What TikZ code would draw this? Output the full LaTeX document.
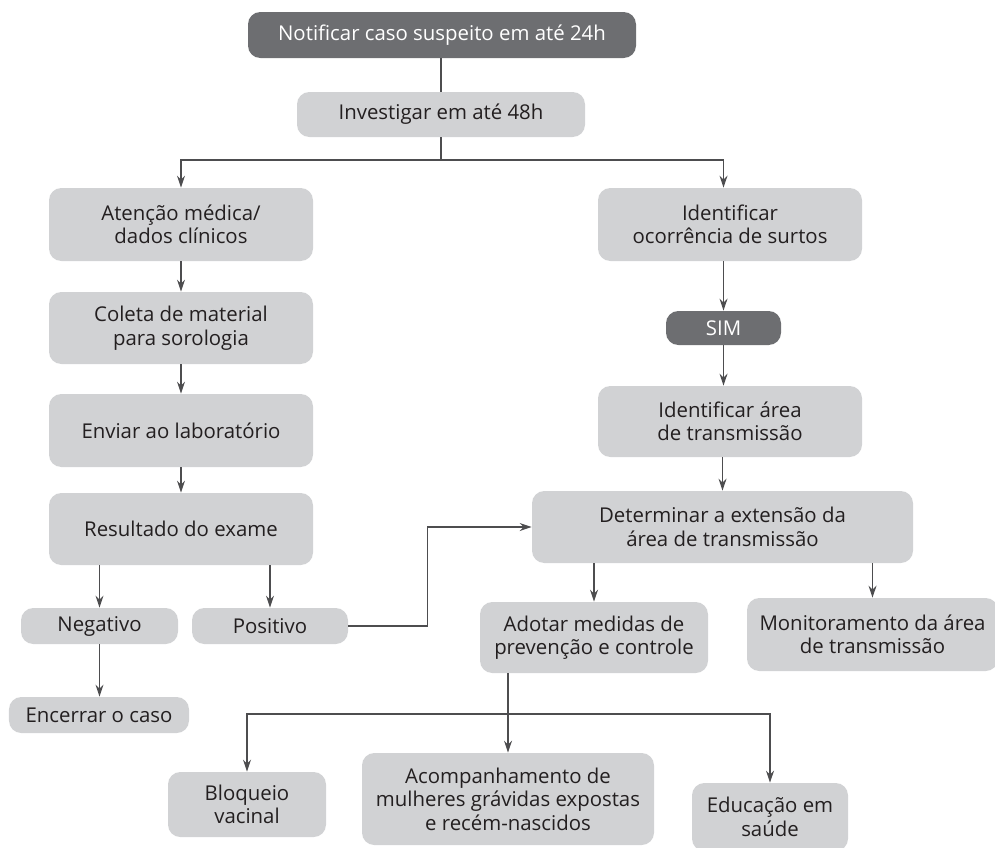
\documentclass[tikz,border=0pt]{standalone}
\usepackage{fontspec}
\setmainfont{Open Sans}
\usepackage{xcolor}
\usetikzlibrary{arrows.meta, calc}
\definecolor{caixa}{HTML}{D1D2D4}
\definecolor{escura}{HTML}{6D6E71}
\definecolor{texto}{HTML}{231F20}
\definecolor{linha}{HTML}{4D4D4F}

\begin{document}
\begin{tikzpicture}[
    font=\fontsize{11.6}{13.4}\selectfont,
    etapa/.style={fill=caixa, rounded corners=7pt, align=center,
                  text=texto, inner sep=2pt},
    destaque/.style={fill=escura, rounded corners=7pt, align=center,
                     text=white, inner sep=2pt},
    liga/.style={linha, line width=0.7pt},
    seta/.style={liga, -{Stealth[length=2.4mm, width=1.6mm]}}
  ]
    \useasboundingbox (0,0) rectangle (19.9,-16.94);
    % topo
    \node[destaque, minimum width=7.76cm, minimum height=0.92cm] (notif)
      at (8.84,-0.70) {Notificar caso suspeito em até 24h};
    \node[etapa, minimum width=5.76cm, minimum height=0.90cm] (invest)
      at (8.82,-2.29) {Investigar em até 48h};
    \coordinate (divide) at (8.82,-3.20);
    % coluna da esquerda
    \node[etapa, minimum width=5.28cm, minimum height=1.46cm] (aten)
      at (3.62,-4.49) {Atenção médica/\\dados clínicos};
    \node[etapa, minimum width=5.28cm, minimum height=1.44cm] (coleta)
      at (3.62,-6.56) {Coleta de material\\para sorologia};
    \node[etapa, minimum width=5.28cm, minimum height=1.46cm] (enviar)
      at (3.62,-8.61) {Enviar ao laboratório};
    \node[etapa, minimum width=5.28cm, minimum height=1.44cm] (result)
      at (3.62,-10.58) {Resultado do exame};
    \node[etapa, minimum width=3.14cm, minimum height=0.72cm] (neg)
      at (1.99,-12.52) {Negativo};
    \node[etapa, minimum width=3.12cm, minimum height=0.72cm] (pos)
      at (5.40,-12.52) {Positivo};
    \node[etapa, minimum width=3.60cm, minimum height=0.72cm] (encer)
      at (1.98,-14.30) {Encerrar o caso};
    % coluna da direita
    \node[etapa, minimum width=5.28cm, minimum height=1.46cm] (ident)
      at (14.60,-4.49) {Identificar\\ocorrência de surtos};
    \node[destaque, minimum width=2.30cm, minimum height=0.68cm] (sim)
      at (14.47,-6.56) {SIM};
    \node[etapa, minimum width=5.28cm, minimum height=1.42cm] (area)
      at (14.60,-8.43) {Identificar área\\de transmissão};
    \node[etapa, minimum width=7.62cm, minimum height=1.44cm] (determ)
      at (14.45,-10.54) {Determinar a extensão da\\área de transmissão};
    \node[etapa, minimum width=4.56cm, minimum height=1.42cm] (adotar)
      at (11.88,-12.75) {Adotar medidas de\\prevenção e controle};
    \node[etapa, minimum width=5.02cm, minimum height=1.46cm] (monit)
      at (17.45,-12.69) {Monitoramento da área\\de transmissão};
    % medidas
    \node[etapa, minimum width=3.16cm, minimum height=1.30cm] (bloq)
      at (4.94,-16.09) {Bloqueio\\vacinal};
    \node[etapa, minimum width=5.84cm, minimum height=1.84cm] (acomp)
      at (10.16,-15.98) {Acompanhamento de\\mulheres grávidas expostas\\e recém-nascidos};
    \node[etapa, minimum width=3.12cm, minimum height=1.36cm] (educ)
      at (15.40,-16.34) {Educação em\\saúde};
    \coordinate (ramo) at (10.16,-14.28);

    % ligacoes
    \draw[liga] (invest.north |- notif.south) -- (invest.north);
    \draw[liga] (invest.south) -- (divide);
    \draw[seta] (divide) -| (aten.north);
    \draw[seta] (divide) -| (sim.north |- ident.north);
    \draw[seta] (aten) -- (coleta);
    \draw[seta] (coleta) -- (enviar);
    \draw[seta] (enviar) -- (result);
    \draw[seta] (neg.north |- result.south) -- (neg.north);
    \draw[seta] (pos.north |- result.south) -- (pos.north);
    \draw[seta] (neg.south) -- (neg.south |- encer.north);
    \draw[seta] (pos.east) -- ++(1.58,0) |- (determ.west);
    \draw[seta] (sim.north |- ident.south) -- (sim.north);
    \draw[seta] (sim.south) -- (sim.south |- area.north);
    \draw[seta] (determ.north |- area.south) -- (determ.north);
    \draw[seta] (adotar.north |- determ.south) -- (adotar.north);
    \draw[seta] (monit.north |- determ.south) -- (monit.north);
    \draw[seta] (acomp.north |- adotar.south) -- (acomp.north);
    \draw[seta] (ramo) -| (bloq.north);
    \draw[seta] (ramo) -| (educ.north);
  \end{tikzpicture}
\end{document}
